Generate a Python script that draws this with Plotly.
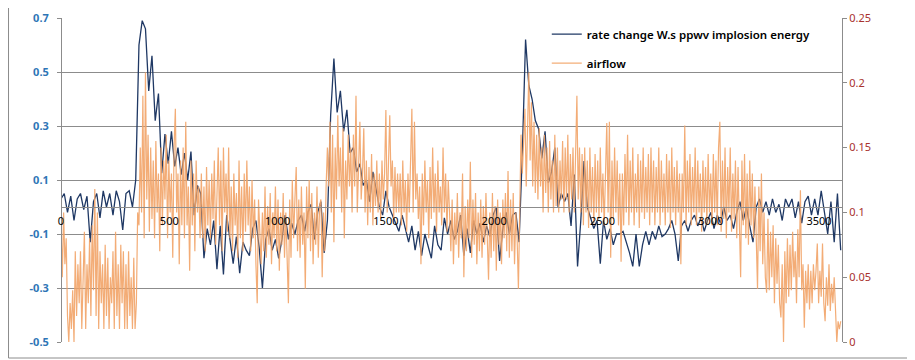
import numpy as np
import plotly.graph_objects as go

# sampling interval (x units) of the values
NAVY_STEP = 15
ORANGE_STEP = 6

navy_label = "rate change W.s ppwv implosion energy"
orange_label = "airflow"

navy_vals = [
    0.03, 0.05, -0.02, 0.04, -0.05, 0.03, 0.05, -0.01, 0.04, -0.13, 0.02, 0.05, -0.04, 0.06, 0.0, 0.05,
    -0.03, 0.06, 0.02, -0.085, 0.05, 0.06, 0.0,
    0.1, 0.6, 0.69, 0.66, 0.43, 0.56, 0.32, 0.42, 0.125, 0.27, 0.16, 0.28, 0.15, 0.22, 0.12, 0.2, 0.1,
    0.205, -0.03, 0.08, 0.05,
    -0.19, -0.08, -0.14, -0.05, -0.23, -0.07, -0.25, -0.03, -0.12, -0.21, -0.11, -0.245, -0.13, -0.16,
    -0.18, -0.08, -0.05, -0.15, -0.3, -0.12, -0.08, -0.16, -0.12, -0.19, -0.12, -0.03, -0.12, -0.06,
    -0.1, -0.05, -0.03, -0.09, -0.02, 0.01, -0.12, -0.02, 0.02, -0.17, -0.05,
    0.34, 0.55, 0.35, 0.43, 0.28, 0.36, 0.2, 0.22, 0.13, 0.16, 0.08, 0.1, 0.02, 0.13, 0.06, 0.0, -0.03,
    0.06, 0.0, -0.03, -0.06, -0.09, -0.03, -0.08, -0.13, -0.07, -0.16, -0.09, -0.18, -0.1, -0.15, -0.19,
    -0.07, -0.14, -0.16, -0.04, -0.1, -0.05, -0.12, -0.09, -0.03, -0.18, -0.08, -0.17, -0.05, -0.1,
    -0.06, -0.13, -0.07, -0.11, -0.03, 0.0, -0.2, -0.08, -0.02, -0.1, -0.03, -0.02, -0.13,
    0.2, 0.62, 0.45, 0.4, 0.32, 0.29, 0.18, 0.28, 0.09, 0.13, 0.22, 0.0, 0.05, 0.02, 0.05, -0.07, 0.12,
    -0.22, -0.05,
    0.17, 0.0, -0.04, -0.08, -0.05, -0.21, -0.05, -0.12, -0.08, -0.14, -0.1, -0.1, -0.09, -0.13, -0.17,
    -0.22, -0.1, -0.22, -0.14, -0.09, -0.14, -0.09, -0.12, -0.07, -0.11, -0.1, -0.08, -0.05, -0.1, -0.2,
    -0.07, -0.05, -0.09, -0.05, -0.03, -0.07, -0.04, -0.09, -0.05, -0.02,
    -0.08, -0.03, -0.06, 0.0, -0.05, -0.03, -0.08, -0.02, 0.02, -0.05, 0.0, -0.07, -0.13, 0.0, 0.03,
    -0.02, 0.02, -0.03, 0.03, -0.02, 0.01, -0.05, 0.03, 0.0, 0.03, -0.04, 0.02, -0.06, 0.02, 0.04,
    -0.03, 0.03, -0.03, 0.06, -0.02, -0.1, 0.02, -0.13, 0.05, -0.16,
]

orange_vals = [
    0.09, 0.05, 0.1, 0.06, 0.08,
    0.02, 0.0, 0.03, 0.01, 0.04, 0.0,
    0.07, 0.02, 0.06, 0.03, 0.07, 0.01, 0.05,
    0.085, 0.01, 0.06, 0.03, 0.08, 0.02,
    0.09, 0.04, 0.118, 0.02, 0.1, 0.01, 0.07,
    0.03, 0.06, 0.01, 0.075, 0.02, 0.065, 0.01, 0.05, 0.03, 0.07,
    0.01, 0.085, 0.02, 0.06, 0.01, 0.075, 0.03, 0.07, 0.01,
    0.06, 0.01, 0.07, 0.02, 0.05, 0.01, 0.065, 0.01, 0.03,
    0.1,
    0.09, 0.15, 0.1, 0.19, 0.08, 0.208, 0.11, 0.16, 0.085, 0.15, 0.095, 0.14, 0.08, 0.155, 0.1, 0.13,
    0.07, 0.15, 0.09, 0.14, 0.11, 0.16, 0.08, 0.14, 0.1, 0.13, 0.065, 0.15, 0.18, 0.1, 0.13, 0.06,
    0.14, 0.09, 0.15, 0.08, 0.17, 0.09, 0.12, 0.055, 0.14, 0.09, 0.13, 0.07, 0.14, 0.1, 0.12, 0.08,
    0.13, 0.08, 0.12, 0.07, 0.135, 0.09, 0.125, 0.08, 0.13, 0.095, 0.14, 0.075, 0.12, 0.15, 0.09, 0.14,
    0.07, 0.15, 0.1, 0.13, 0.085, 0.15, 0.08, 0.12, 0.07, 0.13, 0.09, 0.115, 0.065, 0.14, 0.08, 0.12,
    0.07, 0.13, 0.085, 0.14, 0.09, 0.12, 0.07, 0.125, 0.08, 0.11, 0.06, 0.03, 0.11, 0.075,
    0.06, 0.1, 0.07, 0.12, 0.065, 0.105, 0.075, 0.115, 0.06, 0.1, 0.08, 0.12, 0.07, 0.11, 0.055, 0.1,
    0.075, 0.115, 0.065, 0.1, 0.07, 0.03, 0.11, 0.065, 0.125, 0.08, 0.11, 0.135, 0.07, 0.11, 0.065, 0.12,
    0.075, 0.1, 0.041, 0.12, 0.08, 0.125, 0.07, 0.115, 0.06, 0.1, 0.075, 0.12, 0.065, 0.105,
    0.11, 0.05, 0.1, 0.07, 0.12,
    0.15,
    0.12, 0.17, 0.1, 0.16, 0.077, 0.15, 0.11, 0.175, 0.12, 0.15, 0.1, 0.165, 0.08, 0.14, 0.11, 0.16,
    0.12, 0.15, 0.1, 0.16, 0.12, 0.19,
    0.1, 0.14, 0.17, 0.11, 0.13, 0.165, 0.1, 0.14, 0.09, 0.135, 0.1, 0.145, 0.09, 0.13, 0.105, 0.14,
    0.1, 0.13, 0.095, 0.14, 0.11, 0.13, 0.179, 0.1, 0.14, 0.175, 0.12, 0.14, 0.095, 0.135, 0.1, 0.13,
    0.1,
    0.13, 0.09, 0.14, 0.1, 0.125, 0.085, 0.13, 0.1, 0.14, 0.18, 0.1, 0.17, 0.11, 0.13, 0.095, 0.12,
    0.06, 0.13, 0.09, 0.14, 0.1, 0.125, 0.08, 0.135, 0.095, 0.15, 0.1, 0.13, 0.085, 0.14, 0.1, 0.12,
    0.09, 0.15, 0.1, 0.13, 0.085, 0.125, 0.1,
    0.07, 0.11, 0.06, 0.1, 0.075, 0.115, 0.065, 0.1, 0.08, 0.13, 0.05, 0.105, 0.07, 0.11, 0.08, 0.139,
    0.065, 0.11, 0.075, 0.115, 0.06, 0.1, 0.07, 0.11, 0.065, 0.105, 0.075, 0.115, 0.07, 0.048, 0.1, 0.065,
    0.115, 0.07, 0.105, 0.055, 0.11, 0.075, 0.1, 0.06, 0.11, 0.08, 0.115, 0.07, 0.132, 0.065, 0.11, 0.07,
    0.115, 0.06, 0.1, 0.08, 0.041,
    0.12, 0.16, 0.13,
    0.15, 0.18, 0.12, 0.17, 0.208, 0.14, 0.185, 0.12, 0.17, 0.115, 0.16, 0.11, 0.165, 0.12, 0.15, 0.1,
    0.16, 0.115, 0.15, 0.1, 0.155, 0.11, 0.14, 0.1, 0.16, 0.105, 0.15, 0.1, 0.14, 0.11, 0.155, 0.1,
    0.15, 0.11, 0.16, 0.1, 0.145, 0.11, 0.15, 0.1, 0.14, 0.19, 0.11, 0.15, 0.1,
    0.145, 0.09, 0.15, 0.1, 0.14, 0.088, 0.15, 0.1, 0.135, 0.09, 0.145, 0.1, 0.14, 0.095, 0.15, 0.1,
    0.13, 0.09, 0.14, 0.169, 0.1, 0.17, 0.065, 0.14, 0.095, 0.15, 0.1, 0.14, 0.09, 0.13, 0.062, 0.13,
    0.09, 0.145, 0.1, 0.16, 0.09, 0.14, 0.1, 0.15, 0.09, 0.13, 0.1, 0.145, 0.088, 0.14, 0.1, 0.15,
    0.095, 0.135, 0.1, 0.145, 0.09, 0.15, 0.1, 0.14, 0.09, 0.135, 0.1, 0.15, 0.09, 0.14, 0.1, 0.13,
    0.09, 0.145, 0.1, 0.14, 0.088, 0.15, 0.1, 0.135, 0.09, 0.14, 0.1, 0.13, 0.06, 0.13, 0.1, 0.167,
    0.09, 0.14, 0.1, 0.145, 0.09, 0.135, 0.1, 0.15, 0.09, 0.14, 0.1, 0.13, 0.085, 0.14, 0.1, 0.135,
    0.09, 0.145, 0.1, 0.13,
    0.09, 0.145, 0.1, 0.14, 0.09, 0.15, 0.17, 0.085, 0.14, 0.095, 0.15, 0.08, 0.135, 0.1, 0.15, 0.085,
    0.13, 0.095, 0.14, 0.08, 0.135, 0.09, 0.05, 0.14, 0.09, 0.145, 0.08, 0.13, 0.075, 0.14, 0.09, 0.13,
    0.08, 0.12, 0.07, 0.041, 0.12, 0.07,
    0.13, 0.06, 0.1, 0.05, 0.038, 0.095, 0.04, 0.085, 0.05, 0.09, 0.03, 0.08, 0.045, 0.075, 0.03, 0.019,
    0.06, 0.0, 0.07, 0.03, 0.08, 0.035, 0.075, 0.04, 0.085, 0.05, 0.07, 0.03, 0.087, 0.05,
    0.117, 0.04, 0.06, 0.011, 0.055, 0.03, 0.06, 0.025, 0.055, 0.03, 0.06, 0.04, 0.055, 0.076, 0.03, 0.055,
    0.035, 0.076, 0.03, 0.016, 0.05, 0.028, 0.06, 0.024, 0.045, 0.03, 0.05, 0.02, 0.0, 0.016, 0.01, 0.016,
]

navy_x = np.arange(len(navy_vals)) * NAVY_STEP
orange_x = np.arange(len(orange_vals)) * ORANGE_STEP

x_ticks = [0, 500, 1000, 1500, 2000, 2500, 3000, 3500]
left_ticks = [-0.5, -0.3, -0.1, 0.1, 0.3, 0.5, 0.7]
left_labels = ["-0.5", "-0.3", "-0.1", "0.1", "0.3", "0.5", "0.7"]
right_ticks = [0, 0.05, 0.1, 0.15, 0.2, 0.25]
right_labels = ["0", "0.05", "0.1", "0.15", "0.2", "0.25"]

NAVY = "#1F3864"
ORANGE = "#F2A468"
GRID = "#8C8C8C"
FONT = "Noto Sans"

fig = go.Figure()
fig.add_trace(go.Scatter(
    x=navy_x, y=navy_vals, name=navy_label, mode="lines",
    line=dict(color=NAVY, width=1.3), legendgroup="a", yaxis="y",
))
fig.add_trace(go.Scatter(
    x=orange_x, y=orange_vals, name=orange_label, mode="lines",
    line=dict(color=ORANGE, width=1.2), opacity=0.9, legendgroup="b", yaxis="y2",
))

# page body has an 8px margin, so the figure is sized/offset to compensate
fig.update_layout(
    width=907, height=352,
    margin=dict(l=53, r=73, t=10, b=18, autoexpand=False),
    paper_bgcolor="white", plot_bgcolor="white",
    font=dict(family=FONT, size=11, color="black"),
    showlegend=True,
    legend=dict(
        x=0.622, y=0.995, xanchor="left", yanchor="top",
        bgcolor="rgba(0,0,0,0)", font=dict(family=FONT, size=11.5, color="black", weight=600),
        tracegroupgap=10, traceorder="grouped",
    ),
    xaxis=dict(
        range=[0, 3606], tickvals=x_ticks, showgrid=False, zeroline=False,
        showline=True, linecolor=GRID, linewidth=1, automargin=False,
        anchor="free", position=0.4161, ticklabelstandoff=4,
        ticks="", tickfont=dict(family=FONT, size=11, color="black"),
    ),
    yaxis=dict(
        range=[-0.5, 0.7], tickvals=left_ticks, ticktext=left_labels,
        showgrid=True, gridcolor=GRID, gridwidth=1, zeroline=False,
        showline=True, linecolor=GRID, linewidth=1, automargin=False,
        ticks="outside", ticklen=4, tickcolor=GRID, ticklabelstandoff=6,
        tickfont=dict(family=FONT, size=11, color="#2E75B6", weight="bold"),
        anchor="free", position=0,
    ),
    yaxis2=dict(
        range=[0, 0.25], tickvals=right_ticks, ticktext=right_labels,
        overlaying="y", side="right", showgrid=False, zeroline=False,
        showline=True, linecolor=GRID, linewidth=1, automargin=False,
        ticks="outside", ticklen=4, tickcolor=GRID,
        tickfont=dict(family=FONT, size=11, color="#A8322D"),
        anchor="x",
    ),
    shapes=[
        dict(type="rect", xref="paper", yref="paper", x0=-0.0672, x1=1.0909, y0=-0.0494, y1=1.034,
             line=dict(color="#8C8C8C", width=1), fillcolor="rgba(0,0,0,0)", layer="below"),
    ],
)

fig.write_html("out.html")
